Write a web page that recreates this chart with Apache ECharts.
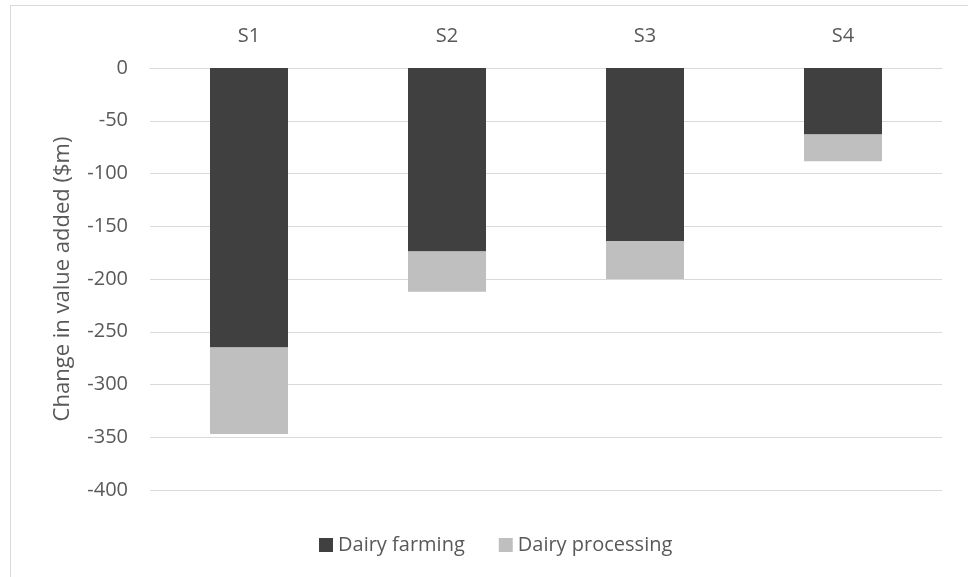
<!DOCTYPE html>
<html>
<head>
<meta charset="utf-8">
<script src="https://cdn.jsdelivr.net/npm/echarts@6/dist/echarts.min.js"></script>
<style>
html,body{margin:0;padding:0;background:#fff;}
#chart{width:968px;height:577px;}
</style>
</head>
<body>
<div id="chart"></div>
<script>
const categories = ['S1', 'S2', 'S3', 'S4'];
const dairyFarming = [-265, -174, -164, -63];
const dairyProcessing = [-82, -38, -36, -25.5];
const yTicks = { min: -400, max: 0, interval: 50 };
const yAxisTitle = 'Change in value added ($m)';

const FONT = '"Open Sans", "Noto Sans", sans-serif';
const TXT = '#595959';
const chart = echarts.init(document.getElementById('chart'), null, { renderer: 'canvas' });
chart.setOption({
  animation: false,
  backgroundColor: '#ffffff',
  textStyle: { fontFamily: FONT },
  graphic: [{
    type: 'rect',
    shape: { x: 10.5, y: 5.5, width: 1000, height: 1000 },
    style: { fill: 'none', stroke: '#d9d9d9', lineWidth: 1 },
    silent: true
  }],
  grid: { left: 150, right: 26, top: 68, bottom: 87, containLabel: false },
  legend: {
    bottom: 17,
    left: 314,
    itemWidth: 14,
    itemHeight: 14,
    itemGap: 34,
    icon: 'rect',
    textStyle: { color: TXT, fontSize: 20, fontFamily: FONT },
    data: ['Dairy farming', 'Dairy processing']
  },
  xAxis: {
    type: 'category',
    position: 'top',
    data: categories,
    axisLine: { show: true, lineStyle: { color: '#d9d9d9', width: 1 } },
    axisTick: { show: false },
    axisLabel: { color: TXT, fontSize: 20, margin: 22, fontFamily: FONT },
    splitLine: { show: false }
  },
  yAxis: {
    type: 'value',
    min: yTicks.min,
    max: yTicks.max,
    interval: yTicks.interval,
    name: yAxisTitle,
    nameLocation: 'middle',
    nameGap: 76,
    nameTextStyle: { color: TXT, fontSize: 22, fontFamily: FONT },
    axisLine: { show: false },
    axisTick: { show: false },
    axisLabel: { color: TXT, fontSize: 20, margin: 22, fontFamily: FONT },
    splitLine: { show: true, lineStyle: { color: '#d9d9d9', width: 1 } }
  },
  series: [
    {
      name: 'Dairy farming',
      type: 'bar',
      stack: 'total',
      data: dairyFarming,
      barWidth: 78,
      itemStyle: { color: '#404040' }
    },
    {
      name: 'Dairy processing',
      type: 'bar',
      stack: 'total',
      data: dairyProcessing,
      barWidth: 78,
      itemStyle: { color: '#bfbfbf' }
    }
  ]
});
</script>
</body>
</html>
